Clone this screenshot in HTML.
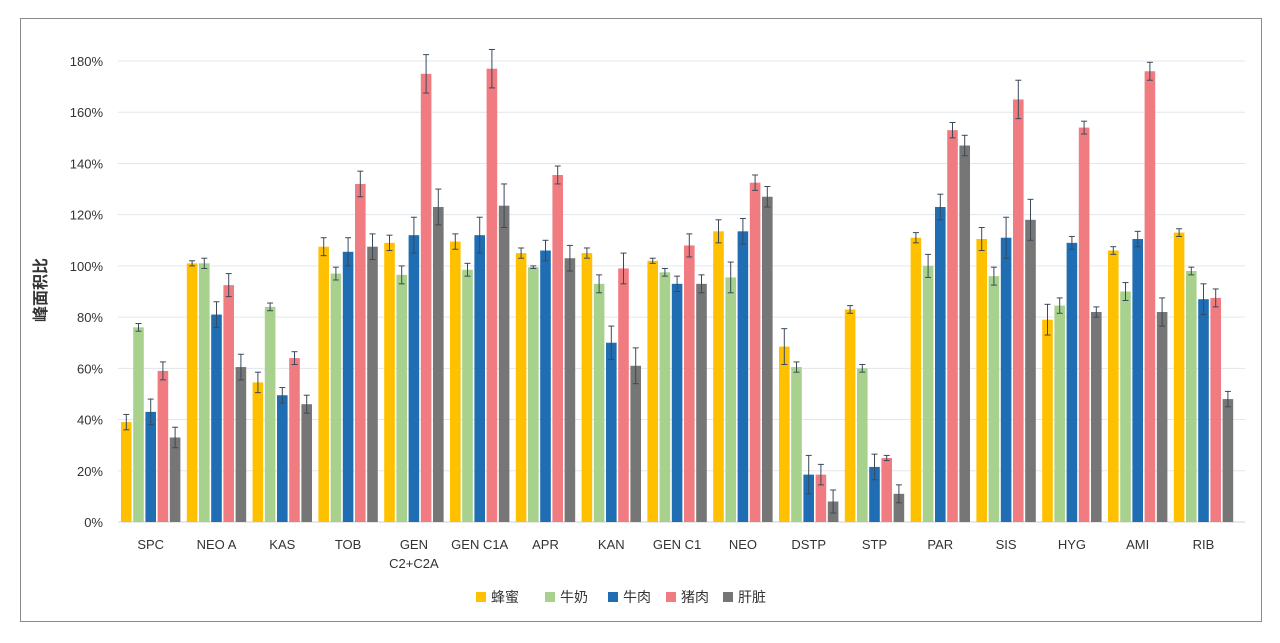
<!DOCTYPE html>
<html><head><meta charset="utf-8"><style>
body{margin:0;background:#fff;}
svg{display:block;font-family:"Liberation Sans","Noto Sans CJK SC",sans-serif;}
</style></head><body>
<svg id="s" width="1280" height="643" xmlns="http://www.w3.org/2000/svg">
<rect x="20.5" y="18.5" width="1241" height="603" fill="#fff" stroke="#8a8a8a" stroke-width="1"/>
<text transform="translate(46,290) rotate(-90)" text-anchor="middle" font-size="16" font-weight="bold" fill="#333">峰面积比</text>
<g id="g"></g>
</svg>
<script>
const g=document.getElementById('g');
const NS='http://www.w3.org/2000/svg';
function el(t,a,txt){const e=document.createElementNS(NS,t);for(const k in a)e.setAttribute(k,a[k]);if(txt!==undefined)e.textContent=txt;g.appendChild(e);return e;}
const y0=522,sc=2.561;
for(let i=0;i<=9;i++){const y=y0-i*20*sc;
 el('line',{x1:118,x2:1245,y1:y,y2:y,stroke:i==0?'#d0d0d0':'#e3e6ea','stroke-width':1});
 el('text',{x:103,y:y+5,'text-anchor':'end','font-size':13,fill:'#333'},(i*20)+'%');}
const cats=['SPC','NEO A','KAS','TOB','GEN|C2+C2A','GEN C1A','APR','KAN','GEN C1','NEO','DSTP','STP','PAR','SIS','HYG','AMI','RIB'];
const d=[[39,76,43,59,33],[101,101,81,92.5,60.5],[54.5,84,49.5,64,46],[107.5,97,105.5,132,107.5],[109,96.5,112,175,123],[109.5,98.5,112,177,123.5],[105,99.5,106,135.5,103],[105,93,70,99,61],[102,97.5,93,108,93],[113.5,95.5,113.5,132.5,127],[68.5,60.5,18.5,18.5,8],[83,60,21.5,25,11],[111,100,123,153,147],[110.5,96,111,165,118],[79,84.5,109,154,82],[106,90,110.5,176,82],[113,98,87,87.5,48]];
const e=[[3,1.5,5,3.5,4],[1,2,5,4.5,5],[4,1.5,3,2.5,3.5],[3.5,2.5,5.5,5,5],[3,3.5,7,7.5,7],[3,2.5,7,7.5,8.5],[2,0.5,4,3.5,5],[2,3.5,6.5,6,7],[1,1.5,3,4.5,3.5],[4.5,6,5,3,4],[7,2,7.5,4,4.5],[1.5,1.5,5,1,3.5],[2,4.5,5,3,4],[4.5,3.5,8,7.5,8],[6,3,2.5,2.5,2],[1.5,3.5,3,3.5,5.5],[1.5,1.5,6,3.5,3]];
const col=['#FFC000','#A9D18E','#1F6DB3','#F07C82','#767676'];
for(let c=0;c<17;c++){const gx=121+c*65.8;
 for(let k=0;k<5;k++){const x=gx+k*12.2,v=d[c][k],h=v*sc;
  el('rect',{x:x,y:y0-h,width:10.6,height:h,fill:col[k]});
  const cx=x+5.3,t=y0-(v+e[c][k])*sc,b=y0-(v-e[c][k])*sc;
  el('line',{x1:cx,x2:cx,y1:t,y2:b,stroke:'#3a4a5a','stroke-width':1});
  el('line',{x1:cx-3,x2:cx+3,y1:t,y2:t,stroke:'#3a4a5a','stroke-width':1});
  el('line',{x1:cx-3,x2:cx+3,y1:b,y2:b,stroke:'#3a4a5a','stroke-width':1});}
 const cx=gx+29.7,parts=cats[c].split('|');
 parts.forEach((p,i)=>el('text',{x:cx,y:549+i*19,'text-anchor':'middle','font-size':13,fill:'#333'},p));}
const lg=[[476,'蜂蜜'],[545,'牛奶'],[608,'牛肉'],[666,'猪肉'],[723,'肝脏']];
lg.forEach((l,i)=>{el('rect',{x:l[0],y:592,width:10,height:10,fill:col[i]});
 el('text',{x:l[0]+15,y:602,'font-size':14,fill:'#333'},l[1]);});
</script>
</body></html>
